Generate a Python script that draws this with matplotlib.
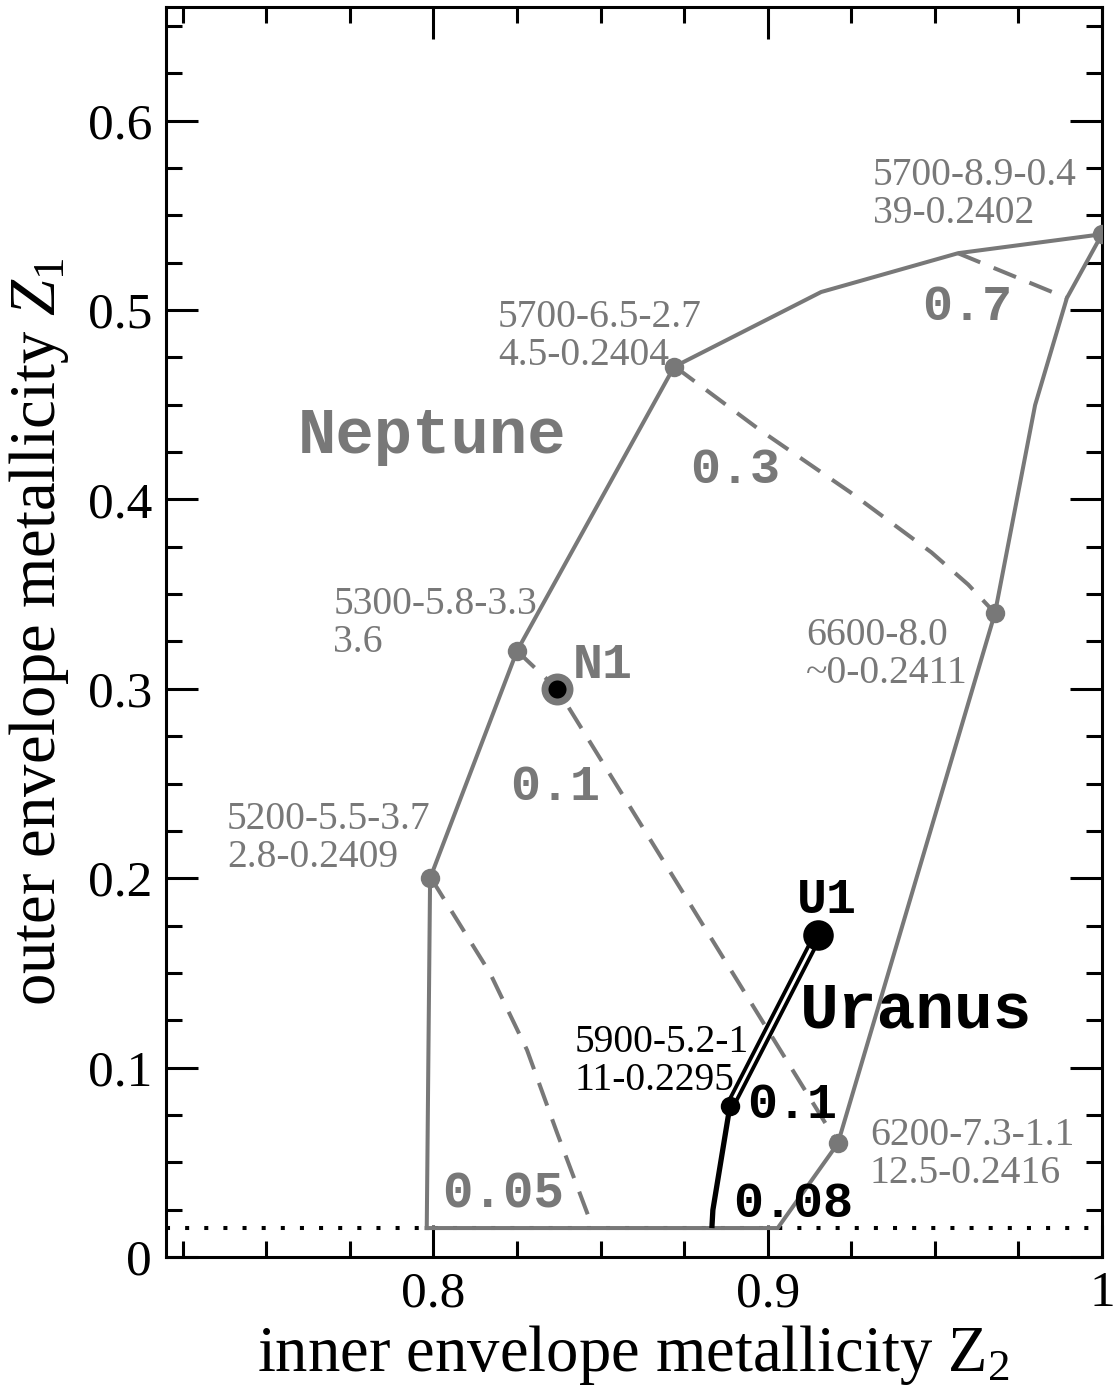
import matplotlib
matplotlib.use("Agg")
import matplotlib.pyplot as plt
from matplotlib.ticker import MultipleLocator, FuncFormatter

plt.rcParams['font.family'] = ['Liberation Serif', 'DejaVu Serif']
plt.rcParams['mathtext.fontset'] = 'custom'
plt.rcParams['mathtext.rm'] = 'Liberation Serif'
plt.rcParams['mathtext.it'] = 'Liberation Serif:italic'

GREY = '#787878'

# ---- data ----
boundary_z2 = [0.798, 0.799, 0.825, 0.872, 0.916, 0.957, 1.000, 0.9895, 0.980, 0.968, 0.921, 0.903, 0.798]
boundary_z1 = [0.0153, 0.200, 0.320, 0.470, 0.5095, 0.530, 0.540, 0.5063, 0.4498, 0.340, 0.060, 0.0153, 0.0153]

model_z2 = [0.799, 0.825, 0.872, 1.000, 0.968, 0.921]
model_z1 = [0.200, 0.320, 0.470, 0.540, 0.340, 0.060]
model_labels = ["5200-5.5-3.7\n2.8-0.2409", "5300-5.8-3.3\n3.6", "5700-6.5-2.7\n4.5-0.2404",
                "5700-8.9-0.4\n39-0.2402", "6600-8.0\n~0-0.2411", "6200-7.3-1.1\n12.5-0.2416"]

dash005_z2 = [0.7993, 0.8169, 0.828, 0.837, 0.8477]
dash005_z1 = [0.200, 0.150, 0.1093, 0.0655, 0.0153]
dash01_z2 = [0.825, 0.837, 0.921]
dash01_z1 = [0.320, 0.300, 0.060]
dash03_z2 = [0.8723, 0.8977, 0.9246, 0.9490, 0.9600, 0.968]
dash03_z1 = [0.470, 0.4366, 0.4039, 0.3720, 0.3550, 0.340]
dash07_z2 = [0.9569, 0.9895]
dash07_z1 = [0.530, 0.5063]

uranus_double_z2 = [0.8887, 0.915]
uranus_double_z1 = [0.0797, 0.170]
uranus_thick_z2 = [0.8887, 0.8836, 0.8833]
uranus_thick_z1 = [0.0797, 0.0248, 0.0153]
uranus_model_label = "5900-5.2-1\n11-0.2295"

n1_z2, n1_z1 = 0.837, 0.300
u1_z2, u1_z1 = 0.915, 0.170

solar_z1 = 0.0153

xticks_major = [0.8, 0.9, 1.0]
yticks_major = [0.0, 0.1, 0.2, 0.3, 0.4, 0.5, 0.6]

# ---- figure ----
fig = plt.figure(figsize=(11.15, 13.87), dpi=100)
ax = fig.add_axes([0.1489, 0.0937, 0.9883 - 0.1489, 0.995 - 0.0937])
ax.set_xlim(0.72, 1.0)
ax.set_ylim(0.0, 0.66)

LW = 2.9
dash = (0, (6, 3.6))

ax.axhline(solar_z1, color='black', lw=2.9, linestyle=(0, (1, 3.75)), dash_capstyle='butt', zorder=1)
ax.plot(boundary_z2, boundary_z1, color=GREY, lw=LW, zorder=2, solid_joinstyle='miter')
for xs, ys in [(dash005_z2, dash005_z1), (dash01_z2, dash01_z1),
               (dash03_z2, dash03_z1), (dash07_z2, dash07_z1)]:
    ax.plot(xs, ys, color=GREY, lw=LW, linestyle=dash, zorder=2)
ax.plot(model_z2, model_z1, 'o', color=GREY, ms=14, mew=0, zorder=4)

# Uranus track
ax.plot(uranus_thick_z2, uranus_thick_z1, color='black', lw=3.8, zorder=5, solid_capstyle='butt')
ax.plot(uranus_double_z2, uranus_double_z1, color='black', lw=7.5, zorder=5, solid_capstyle='butt')
ax.plot(uranus_double_z2, uranus_double_z1, color='white', lw=2.0, zorder=6, solid_capstyle='butt')
ax.plot([uranus_double_z2[0]], [uranus_double_z1[0]], 'o', color='black', ms=14, mew=0, zorder=7)
ax.plot([u1_z2], [u1_z1], 'o', color='black', ms=22, mew=0, zorder=7)
ax.plot([n1_z2], [n1_z1], 'o', mfc='black', mec=GREY, ms=18, mew=5, zorder=7)

# model labels (serif); anchored at the baseline of the last line
label_pos = [(0.7382, 0.2059), (0.770, 0.3194), (0.8193, 0.471),
             (0.9315, 0.5459), (0.9114, 0.3031), (0.9306, 0.0391)]
for (lx, ly), txt in zip(label_pos, model_labels):
    ax.text(lx, ly, txt, color=GREY, fontsize=28.5, ha='left', va='baseline', linespacing=1.04, zorder=8)
ax.text(0.8423, 0.0882, uranus_model_label, color='black', fontsize=28.5, ha='left', va='baseline',
        linespacing=1.04, zorder=8)

mono = dict(family=['Liberation Mono', 'DejaVu Sans Mono'], weight='bold', ha='left', va='baseline', zorder=8)
ax.text(0.7595, 0.4245, 'Neptune', color=GREY, fontsize=46, **mono)
ax.text(0.9097, 0.1214, 'Uranus', color='black', fontsize=46.5, **mono)
ax.text(0.8767, 0.4087, '0.3', color=GREY, fontsize=36, **mono)
ax.text(0.9461, 0.4947, '0.7', color=GREY, fontsize=36, **mono)
ax.text(0.8229, 0.2413, '0.1', color=GREY, fontsize=36, **mono)
ax.text(0.8418, 0.3057, 'N1', color=GREY, fontsize=36, **mono)
ax.text(0.9088, 0.1816, 'U1', color='black', fontsize=36, **mono)
ax.text(0.8938, 0.0734, '0.1', color='black', fontsize=36, **mono)
ax.text(0.8896, 0.0211, '0.08', color='black', fontsize=36, **mono)
ax.text(0.8026, 0.0264, '0.05', color=GREY, fontsize=36.5, **mono)

# axes styling
ax.set_xticks(xticks_major)
ax.set_yticks(yticks_major)
ax.xaxis.set_minor_locator(MultipleLocator(0.025))
ax.yaxis.set_minor_locator(MultipleLocator(0.025))

def fmt(v, pos):
    s = f"{v:.1f}"
    if s in ("0.0", "1.0"):
        s = s[0]
    return s
ax.xaxis.set_major_formatter(FuncFormatter(fmt))
ax.yaxis.set_major_formatter(FuncFormatter(fmt))

ax.tick_params(which='both', direction='in', top=True, right=True, width=2.2, labelsize=37)
ax.tick_params(which='major', length=23)
ax.tick_params(which='minor', length=11.5)
ax.tick_params(axis='y', which='major', pad=10)
ax.tick_params(axis='x', which='major', pad=10)
for sp in ax.spines.values():
    sp.set_linewidth(2.2)

ax.set_xlabel(r'inner envelope metallicity $\mathrm{Z}_2$', fontsize=46.5, labelpad=4)
ax.set_ylabel(r'outer envelope metallicity $Z_1$', fontsize=46.5, labelpad=12)

fig.savefig('out.png', dpi=100)
